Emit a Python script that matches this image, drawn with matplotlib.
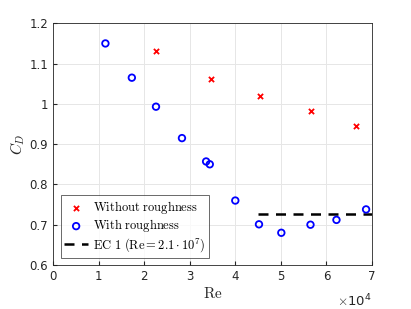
import matplotlib
matplotlib.use("Agg")
import matplotlib.pyplot as plt

plt.rcParams["mathtext.fontset"] = "cm"

re_smooth = [2.25e4, 3.47e4, 4.55e4, 5.67e4, 6.65e4]
cd_smooth = [1.130, 1.062, 1.020, 0.982, 0.944]

re_rough = [1.15e4, 1.73e4, 2.26e4, 2.83e4, 3.36e4, 3.44e4, 4.00e4,
            4.52e4, 5.01e4, 5.65e4, 6.22e4, 6.87e4]
cd_rough = [1.150, 1.065, 0.993, 0.915, 0.857, 0.850, 0.760,
            0.701, 0.680, 0.700, 0.712, 0.738]

re_ec = [4.5e4, 7.0e4]
cd_ec = [0.726, 0.726]

fig = plt.figure(figsize=(4.11, 3.09), dpi=100)
ax = fig.add_axes([53 / 411, 1 - 265 / 309, 319 / 411, 241.7 / 309])

ax.scatter(re_smooth, cd_smooth, marker="x", color="red", s=14, linewidths=1.3,
           label=r"$\mathrm{Without\ roughness}$", zorder=3)
ax.scatter(re_rough, cd_rough, marker="o", facecolors="none", edgecolors="blue",
           s=22, linewidths=1.3, label=r"$\mathrm{With\ roughness}$", zorder=3)
ax.plot(re_ec, cd_ec, "k--", linewidth=1.8, dashes=(4, 3),
        label=r"$\mathrm{EC\ 1\ (Re} = 2.1 \cdot 10^7\mathrm{)}$", zorder=2)

ax.set_xlim(0, 7e4)
ax.set_ylim(0.6, 1.2)
ax.set_xticks([i * 1e4 for i in range(8)])
ax.set_xticklabels([str(i) for i in range(8)])
ax.set_yticks([0.6, 0.7, 0.8, 0.9, 1.0, 1.1, 1.2])
ax.set_yticklabels(["0.6", "0.7", "0.8", "0.9", "1", "1.1", "1.2"])
ax.tick_params(labelsize=8.5, colors="#262626", direction="in", length=3)
ax.grid(True, color="#e6e6e6", linewidth=0.7)
ax.set_axisbelow(True)
for s in ax.spines.values():
    s.set_color("#262626")
    s.set_linewidth(0.6)

ax.set_xlabel(r"$\mathrm{Re}$", fontsize=11, color="#262626", labelpad=2)
ax.set_ylabel(r"$C_D$", fontsize=11, color="#262626", labelpad=2)
ax.text(1.0, -0.115, r"$\times\mathregular{10^4}$", transform=ax.transAxes, ha="right",
        va="top", fontsize=9.5, color="#262626")

leg = ax.legend(loc="lower left", fontsize=9,
                frameon=True, fancybox=False, edgecolor="#262626",
                borderpad=0.3, labelspacing=0.12, handlelength=1.9,
                handletextpad=0.4, borderaxespad=0.6)
leg.get_frame().set_linewidth(0.6)

fig.savefig("out.png", dpi=100)
